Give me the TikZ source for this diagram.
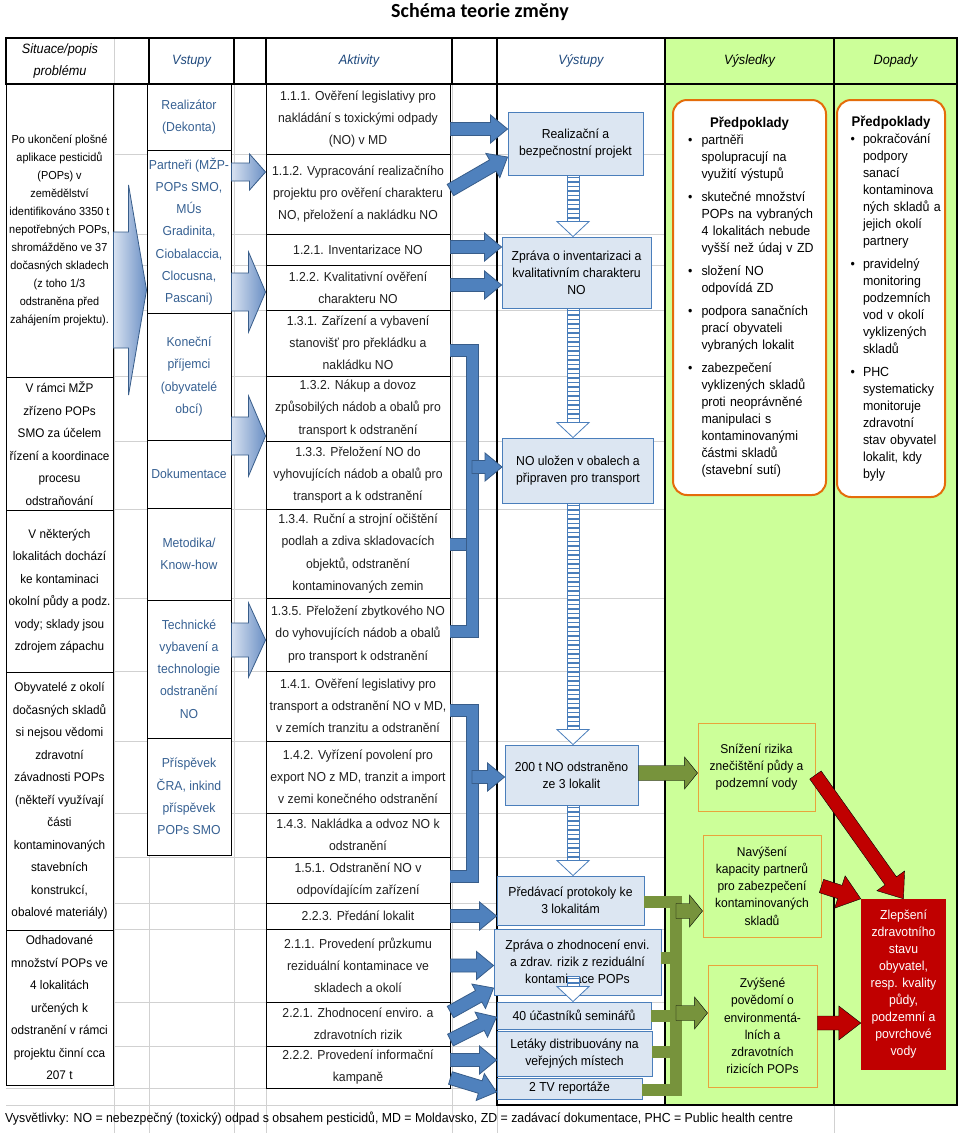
\documentclass[tikz,border=0pt]{standalone}
\usepackage{fontspec}
\setmainfont{Liberation Sans}[FakeStretch=0.94]
\newfontfamily\titlefont{Carlito}
\usepackage{enumitem}
\usetikzlibrary{calc}

\definecolor{grnbg}{HTML}{CCFF99}
\definecolor{outfill}{HTML}{DCE6F2}
\definecolor{outblue}{HTML}{4A7EBB}
\definecolor{arrblue}{HTML}{4F81BD}
\definecolor{arrdark}{HTML}{385D8A}
\definecolor{arrlight}{HTML}{D8E2F1}
\definecolor{arrmid}{HTML}{6A8FC4}
\definecolor{olivegrn}{HTML}{77933C}
\definecolor{predorange}{HTML}{E46C0A}
\definecolor{resorange}{HTML}{E8A33C}
\definecolor{impred}{HTML}{C00000}
\definecolor{inblue}{HTML}{366092}
\definecolor{headblue}{HTML}{1F497D}

% block arrow between two points: [style]{from}{to}{shaft half}{head half}{head length}
\newcommand{\blkarrow}[6][]{%
  \path let \p1=(#2), \p2=(#3) in \pgfextra{%
    \pgfmathsetmacro\blkang{atan2(\y2-\y1,\x2-\x1)}%
    \pgfmathsetmacro\blklen{veclen(\x2-\x1,\y2-\y1)}%
    \global\let\blkang\blkang\global\let\blklen\blklen};
  \begin{scope}[shift={(#2)}, rotate=\blkang]
    \draw[#1] (0,-#4) -- ({\blklen-#6},-#4) -- ({\blklen-#6},-#5) -- (\blklen,0)
      -- ({\blklen-#6},#5) -- ({\blklen-#6},#4) -- (0,#4) -- cycle;
  \end{scope}}

% striped down arrow: {top}{tip}
\newcommand{\strarrow}[2]{%
  \draw[stripeshaft] ([xshift=-6pt]#1) rectangle ([xshift=6pt,yshift=15pt]#2);
  \draw[stripehead] ([xshift=-16pt,yshift=15pt]#2) -- (#2) -- ([xshift=16pt,yshift=15pt]#2) -- cycle;}

\tikzset{
  gridln/.style={black!18, line width=0.6pt},
  tabline/.style={black, line width=1.2pt},
  colhead/.style={font=\fontsize{13.5}{22}\selectfont\itshape, align=center},
  sitbox/.style={draw, line width=0.9pt, fill=white, align=center, inner sep=0pt,
    minimum width=107pt, font=\fontsize{12.5}{22.5}\selectfont},
  inbox/.style={draw, line width=0.9pt, fill=white, align=center, inner sep=0pt,
    minimum width=84pt, text=inblue, font=\fontsize{13}{22.2}\selectfont},
  actbox/.style={draw, line width=0.9pt, fill=white, align=center, inner sep=0pt,
    minimum width=184pt, text=black!88, font=\fontsize{13}{22.2}\selectfont},
  outbox/.style={draw=outblue, fill=outfill, line width=0.9pt, align=center, inner sep=0pt,
    font=\fontsize{13}{17}\selectfont},
  resbox/.style={draw=resorange, line width=0.9pt, align=center, inner sep=0pt,
    font=\fontsize{12.8}{17.3}\selectfont},
  impbox/.style={fill=impred, text=white, align=center, inner sep=0pt,
    font=\fontsize{13}{17}\selectfont},
  predbox/.style={draw=predorange, line width=2pt, fill=white, rounded corners=14pt,
    inner xsep=0pt, inner ysep=0pt, font=\fontsize{13.2}{17}\selectfont},
  gaparr/.style={draw=arrdark, line width=0.8pt, left color=arrlight, right color=arrmid},
  actarr/.style={draw=arrdark, line width=0.8pt, fill=arrblue},
  barline/.style={arrblue, line width=11pt, preaction={draw=arrdark, line width=13pt}},
  olivearr/.style={fill=olivegrn},
  olivebar/.style={olivegrn, line width=12pt},
  redarr/.style={fill=impred},
  stripeshaft/.style={draw=outblue, line width=0.8pt, fill=white,
    path picture={\foreach \k in {0,...,60}{\draw[outblue, line width=1.6pt]
      ([yshift=-\k*4.5pt-2pt]path picture bounding box.north west) --
      ([yshift=-\k*4.5pt-2pt]path picture bounding box.north east);}}},
  stripehead/.style={draw=outblue, line width=0.8pt, fill=white}
}

\begin{document}
\begin{tikzpicture}[x=1pt, y=-1pt]
\useasboundingbox (0,0) rectangle (960,1133);
\fill[white] (0,0) rectangle (960,1133);

% green columns and grid
\fill[grnbg] (665,38) rectangle (957,1105);
\foreach \gy in {154,234,265,310,376,441,509,598,671,741,813,857,903,929,1002,1046,1088,1105}
  \draw[gridln] (6,\gy) -- (665,\gy);
\foreach \gx in {114,149,234,266,452}
  \draw[gridln] (\gx,84) -- (\gx,1133);
\draw[gridln] (497,1105) -- (497,1133);
\draw[gridln] (834,1105) -- (834,1133);
\draw[gridln] (114,38) -- (114,84);

% table frame
\draw[tabline] (6,38) rectangle (957,84);
\foreach \hx in {149,234,266,452,497,665,834}
  \draw[tabline] (\hx,38) -- (\hx,84);
\draw[tabline] (497,84) -- (497,1105) -- (957,1105) -- (957,84);
\draw[tabline] (665,84) -- (665,1105);
\draw[tabline] (834,84) -- (834,1105);

\node[font=\titlefont\bfseries\fontsize{20}{22}\selectfont] (title) at (480,12) {Schéma teorie změny};

% headers
\node[colhead] (hsit) at (60,61) {Situace/popis\\problému};
\node[colhead, text=headblue] (hin) at (191.5,61) {Vstupy};
\node[colhead, text=headblue] (hact) at (359,61) {Aktivity};
\node[colhead, text=headblue] (hout) at (581,61) {Výstupy};
\node[colhead] (hres) at (749.5,61) {Výsledky};
\node[colhead] (himp) at (895.5,61) {Dopady};

% situation
\node[sitbox, minimum height=293pt, font=\fontsize{11.6}{18}\selectfont] (l1) at (59.5,230.5)
  {Po ukončení plošné\\aplikace pesticidů\\(POPs) v\\zemědělství\\identifikováno 3350 t\\nepotřebných POPs,\\shromážděno ve 37\\dočasných skladech\\(z toho 1/3\\odstraněna před\\zahájením projektu).};
\node[sitbox, minimum height=133pt] (l2) at (59.5,443.5)
  {V rámci MŽP\\zřízeno POPs\\SMO za účelem\\řízení a koordinace\\procesu\\odstraňování};
\node[sitbox, minimum height=162pt] (l3) at (59.5,591)
  {V některých\\lokalitách dochází\\ke kontaminaci\\okolní půdy a podz.\\vody; sklady jsou\\zdrojem zápachu};
\node[sitbox, minimum height=258pt] (l4) at (59.5,801)
  {Obyvatelé z okolí\\dočasných skladů\\si nejsou vědomi\\zdravotní\\závadnosti POPs\\(někteří využívají\\části\\kontaminovaných\\stavebních\\konstrukcí,\\obalové materiály)};
\node[sitbox, minimum height=155pt] (l5) at (59.5,1007.5)
  {Odhadované\\množství POPs ve\\4 lokalitách\\určených k\\odstranění v rámci\\projektu činní cca\\207 t};

% inputs
\node[inbox, minimum height=66pt] (i1) at (189,117) {Realizátor\\(Dekonta)};
\node[inbox, minimum height=163pt] (i2) at (189,231.5) {Partneři (MŽP-\\POPs SMO,\\MÚs\\Gradinita,\\Ciobalaccia,\\Clocusna,\\Pascani)};
\node[inbox, minimum height=127pt] (i3) at (189,376.5) {Koneční\\příjemci\\(obyvatelé\\obcí)};
\node[inbox, minimum height=68pt] (i4) at (189,474) {Dokumentace};
\node[inbox, minimum height=92pt] (i5) at (189,554) {Metodika/\\Know-how};
\node[inbox, minimum height=138pt] (i6) at (189,669) {Technické\\vybavení a\\technologie\\odstranění\\NO};
\node[inbox, minimum height=117pt] (i7) at (189,796.5) {Příspěvek\\ČRA, inkind\\příspěvek\\POPs SMO};

% activities
\node[actbox, minimum height=70pt] (a1) at (358,119) {1.1.1. Ověření legislativy pro\\nakládání s toxickými odpady\\(NO) v MD};
\node[actbox, minimum height=80pt] (a2) at (358,194) {1.1.2. Vypracování realizačního\\projektu pro ověření charakteru\\NO, přeložení a nakládku NO};
\node[actbox, minimum height=31pt] (a3) at (358,249.5) {1.2.1. Inventarizace NO};
\node[actbox, minimum height=45pt] (a4) at (358,287.5) {1.2.2. Kvalitativní ověření\\charakteru NO};
\node[actbox, minimum height=66pt] (a5) at (358,343) {1.3.1. Zařízení a vybavení\\stanovišť pro překládku a\\nakládku NO};
\node[actbox, minimum height=65pt] (a6) at (358,408.5) {1.3.2. Nákup a dovoz\\způsobilých nádob a obalů pro\\transport k odstranění};
\node[actbox, minimum height=68pt] (a7) at (358,475) {1.3.3. Přeložení NO do\\vyhovujících nádob a obalů pro\\transport a k odstranění};
\node[actbox, minimum height=89pt] (a8) at (358,553.5) {1.3.4. Ruční a strojní očištění\\podlah a zdiva skladovacích\\objektů, odstranění\\kontaminovaných zemin};
\node[actbox, minimum height=73pt] (a9) at (358,634.5) {1.3.5. Přeložení zbytkového NO\\do vyhovujících nádob a obalů\\pro transport k odstranění};
\node[actbox, minimum height=70pt] (a10) at (358,706) {1.4.1. Ověření legislativy pro\\transport a odstranění NO v MD,\\v zemích tranzitu a odstranění};
\node[actbox, minimum height=72pt] (a11) at (358,777) {1.4.2. Vyřízení povolení pro\\export NO z MD, tranzit a import\\v zemi konečného odstranění};
\node[actbox, minimum height=44pt] (a12) at (358,835) {1.4.3. Nakládka a odvoz NO k\\odstranění};
\node[actbox, minimum height=46pt] (a13) at (358,880) {1.5.1. Odstranění NO v\\odpovídajícím zařízení};
\node[actbox, minimum height=26pt] (a14) at (358,916) {2.2.3. Předání lokalit};
\node[actbox, minimum height=73pt] (a15) at (358,965.5) {2.1.1. Provedení průzkumu\\reziduální kontaminace ve\\skladech a okolí};
\node[actbox, minimum height=44pt] (a16) at (358,1024) {2.2.1. Zhodnocení enviro. a\\zdravotních rizik};
\node[actbox, minimum height=42pt] (a17) at (358,1067) {2.2.2. Provedení informační\\kampaně};

% outputs
\node[outbox, minimum width=135pt, minimum height=63pt] (v1) at (575.5,143.5) {Realizační a\\bezpečnostní projekt};
\node[outbox, minimum width=149pt, minimum height=71pt] (v2) at (576.5,272.5) {Zpráva o inventarizaci a\\kvalitativním charakteru\\NO};
\node[outbox, minimum width=151pt, minimum height=65pt] (v3) at (578,470.5) {NO uložen v obalech a\\připraven pro transport};
\node[outbox, minimum width=133pt, minimum height=60pt] (v4) at (571.5,775) {200 t NO odstraněno\\ze 3 lokalit};
\node[outbox, minimum width=147pt, minimum height=49pt] (v5) at (570.5,900.5) {Předávací protokoly ke\\3 lokalitám};
\node[outbox, minimum width=167pt, minimum height=66pt] (v6) at (577.5,962) {Zpráva o zhodnocení envi.\\a zdrav. rizik z reziduální\\kontaminace POPs};
\node[outbox, minimum width=154pt, minimum height=27pt] (v7) at (574,1015.5) {40 účastníků seminářů};
\node[outbox, minimum width=155pt, minimum height=45pt] (v8) at (574.5,1053.5) {Letáky distribuovány na\\veřejných místech};
\node[outbox, minimum width=145pt, minimum height=21pt] (v9) at (569.5,1088.5) {2 TV reportáže};

% striped arrows between outputs
\coordinate (s1) at (v1.south -| 573,0); \coordinate (s1e) at (v2.north -| 573,0);
\coordinate (s2) at (v2.south -| 573,0); \coordinate (s2e) at (v3.north -| 573,0);
\coordinate (s3) at (v3.south -| 573,0); \coordinate (s3e) at (v4.north -| 573,0);
\coordinate (s4) at (v4.south -| 573,0); \coordinate (s4e) at (v5.north -| 573,0);
\coordinate (s5) at ([yshift=19pt]v6.south -| 573,0); \coordinate (s5e) at (v7.north -| 573,0);
\strarrow{s1}{s1e}
\strarrow{s2}{s2e}
\strarrow{s3}{s3e}
\strarrow{s4}{s4e}
\strarrow{s5}{s5e}

% assumptions
\node[predbox, minimum width=153pt, minimum height=395pt, text width=140pt] (pr1) at (749.5,297.5) {%
  {\centering\fontsize{14}{17}\selectfont\bfseries Předpoklady\par}\raggedright
  \begin{itemize}[label=\textbullet, leftmargin=22pt, labelsep=9pt, itemsep=6pt, topsep=0pt, parsep=0pt, partopsep=0pt]
  \item partněři\\spolupracují na\\využití výstupů
  \item skutečné množství\\POPs na vybraných\\4 lokalitách nebude\\vyšší než údaj v ZD
  \item složení NO\\odpovídá ZD
  \item podpora sanačních\\prací obyvateli\\vybraných lokalit
  \item zabezpečení\\vyklizených skladů\\proti neoprávněné\\manipulaci s\\kontaminovanými\\částmi skladů\\(stavební sutí)
  \end{itemize}};
\node[predbox, minimum width=108pt, minimum height=397pt, text width=100pt] (pr2) at (891,298.5) {%
  {\centering\fontsize{14}{17}\selectfont\bfseries Předpoklady\par}\raggedright
  \begin{itemize}[label=\textbullet, leftmargin=22pt, labelsep=8pt, itemsep=6pt, topsep=0pt, parsep=0pt, partopsep=0pt]
  \item pokračování\\podpory\\sanací\\kontaminova\\ných skladů a\\jejich okolí\\partnery
  \item pravidelný\\monitoring\\podzemních\\vod v okolí\\vyklizených\\skladů
  \item PHC\\systematicky\\monitoruje\\zdravotní\\stav obyvatel\\lokalit, kdy\\byly
  \end{itemize}};

% results and impact
\node[resbox, minimum width=117pt, minimum height=88pt] (r1) at (756.5,767) {Snížení rizika\\znečištění půdy a\\podzemní vody};
\node[resbox, minimum width=118pt, minimum height=102pt] (r2) at (762,886) {Navýšení\\kapacity partnerů\\pro zabezpečení\\kontaminovaných\\skladů};
\node[resbox, minimum width=109pt, minimum height=122pt] (r3) at (762.5,1026) {Zvýšené\\povědomí o\\environmentá-\\lních a\\zdravotních\\rizicích POPs};
\node[impbox, minimum width=85pt, minimum height=171pt] (imp) at (903.5,984.5) {Zlepšení\\zdravotního\\stavu\\obyvatel,\\resp. kvality\\půdy,\\podzemní a\\povrchové\\vody};

% situation -> inputs -> activities
\blkarrow[gaparr]{l1.east |- 0,290}{i2.west |- 0,290}{58}{105}{18}
\blkarrow[gaparr]{i2.east |- 0,172}{a2.west |- 0,172}{9}{18}{16}
\blkarrow[gaparr]{i2.east |- 0,292}{a4.west |- 0,292}{19}{40}{17}
\blkarrow[gaparr]{i3.east |- 0,436}{a7.west |- 0,436}{19}{40}{17}
\blkarrow[gaparr]{i6.east |- 0,640}{a9.west |- 0,640}{17}{37}{17}

% activities -> outputs
\blkarrow[actarr]{a1.east |- 0,129}{v1.west |- 0,129}{6.5}{14}{17}
\blkarrow[actarr]{a2.east |- 0,190}{v1.west |- 0,157}{6.5}{14}{17}
\blkarrow[actarr]{a3.east |- 0,247}{v2.west |- 0,247}{6.5}{14}{17}
\blkarrow[actarr]{a4.east |- 0,285}{v2.west |- 0,285}{6.5}{14}{17}

\coordinate (b1t) at (472,350); \coordinate (b1b) at (472,631);
\draw[barline] (a8.east |- 0,544) -- (b1t |- 0,544);
\draw[barline] (a5.east |- b1t) -- (b1t) -- (b1b) -- (a9.east |- b1b);
\blkarrow[actarr]{b1t |- 0,467}{v3.west |- 0,467}{6.5}{14}{17}

\coordinate (b2t) at (472,710); \coordinate (b2b) at (472,876);
\draw[barline] (a10.east |- b2t) -- (b2t) -- (b2b) -- (a13.east |- b2b);
\blkarrow[actarr]{b2t |- 0,777}{v4.west |- 0,777}{6.5}{14}{17}

\blkarrow[actarr]{a14.east}{v5.west |- a14.east}{6.5}{14}{17}
\blkarrow[actarr]{a15.east}{v6.west |- a15.east}{6.5}{14}{17}
\blkarrow[actarr]{a16.east |- 0,1012}{v6.west |- 0,988}{6.5}{14}{17}
\blkarrow[actarr]{a16.east |- 0,1040}{v7.west |- 0,1017}{6.5}{14}{17}
\blkarrow[actarr]{a17.east |- 0,1060}{v8.west |- 0,1060}{6.5}{14}{17}
\blkarrow[actarr]{a17.east |- 0,1078}{v9.west |- 0,1092}{6.5}{14}{17}

% outputs -> results
\blkarrow[olivearr]{v4.east |- 0,773}{r1.west |- 0,773}{7.5}{16}{13}
\coordinate (gbt) at (676,902); \coordinate (gbb) at (676,1090);
\draw[olivebar] (v6.east |- 0,958) -- (gbt |- 0,958);
\draw[olivebar] (v7.east |- 0,1016) -- (gbt |- 0,1016);
\draw[olivebar] (v8.east |- 0,1052) -- (gbt |- 0,1052);
\draw[olivebar] (v5.east |- gbt) -- (gbt) -- (gbb) -- (v9.east |- gbb);
\blkarrow[olivearr]{gbt |- 0,911}{r2.west |- 0,911}{7.5}{16}{13}
\blkarrow[olivearr]{gbt |- 0,1013}{r3.west |- 0,1013}{7.5}{16}{13}

% results -> impact
\blkarrow[redarr]{r1.east |- 0,775}{imp.north}{7}{17}{22}
\blkarrow[redarr]{r2.east |- 0,886}{imp.north west}{7}{17}{22}
\blkarrow[redarr]{r3.east |- 0,1023}{imp.west |- 0,1023}{7}{17}{22}

\node[anchor=west, inner sep=0pt, font=\fontsize{13.1}{15}\selectfont] (legend) at (5,1119)
  {Vysvětlivky: NO = nebezpečný (toxický) odpad s obsahem pesticidů, MD = Moldavsko, ZD = zadávací dokumentace, PHC = Public health centre};
\end{tikzpicture}
\end{document}
